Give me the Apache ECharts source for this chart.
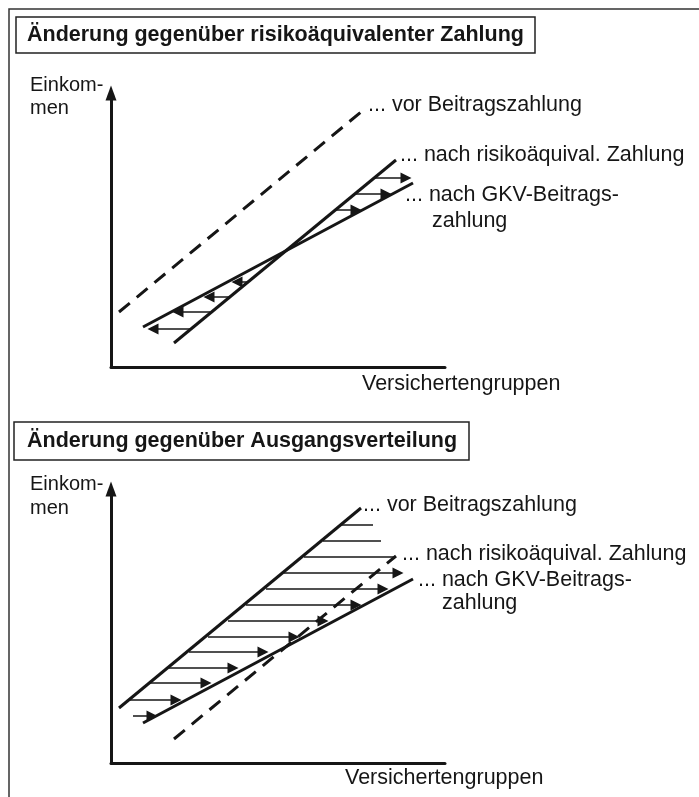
<!DOCTYPE html>
<html>
<head>
<meta charset="utf-8">
<script src="https://cdn.jsdelivr.net/npm/echarts@6/dist/echarts.min.js"></script>
<style>
  html, body { margin: 0; padding: 0; background: #fff; }
  #chart { width: 699px; height: 797px; }
</style>
</head>
<body>
<div id="chart"></div>
<script>
  // schematic: x = Versichertengruppen, y = Einkommen (1 unit ~ 1 px)
  const xMax = 334;
  const yMax = 274;

  // lines, [x, y] start and end
  const vorBeitrag = [[8, 55], [250, 255]];
  const nachRisiko = [[63, 24], [285, 207]];
  const nachGKV = [[32, 40], [302, 184]];

  // top panel arrows: [y, xFrom, xTo]
  const arrowsTop = [[189, 263, 295], [173, 243, 275], [157, 225, 245],
    [85, 137, 126], [70, 118, 98], [55, 99, 67], [38, 79, 42]];
  // bottom panel: hatch lines without head, then arrows
  const hatchBottom = [[238, 230, 262], [222, 212, 270], [206, 193, 285]];
  const arrowsBottom = [[190, 173, 287], [174, 155, 272], [158, 135, 245],
    [142, 117, 212], [126, 97, 183], [111, 78, 152], [95, 58, 122],
    [80, 38, 95], [63, 18, 65], [47, 22, 41]];

  const titles = ['Änderung gegenüber risikoäquivalenter Zahlung', 'Änderung gegenüber Ausgangsverteilung'];
  const lineLabels = ['... vor Beitragszahlung', '... nach risikoäquival. Zahlung', '... nach GKV-Beitrags-', 'zahlung'];

  const ink = '#161616';
  const font = '"Liberation Sans", Arial, Helvetica, sans-serif';
  const dash = [14, 9];

  let chart = echarts.init(document.getElementById('chart'));

  function axes(idx) {
    return {
      x: {
        gridIndex: idx, type: 'value', min: 0, max: xMax,
        axisLine: { show: true, onZero: false, lineStyle: { color: ink, width: 3 } },
        axisTick: { show: false }, axisLabel: { show: false }, splitLine: { show: false }
      },
      y: {
        gridIndex: idx, type: 'value', min: 0, max: yMax,
        axisLine: {
          show: true, onZero: false, symbol: ['none', 'triangle'], symbolSize: [11, 15],
          lineStyle: { color: ink, width: 3 }
        },
        axisTick: { show: false }, axisLabel: { show: false }, splitLine: { show: false }
      }
    };
  }

  function lineSeries(idx, data, dashed) {
    return {
      type: 'line', xAxisIndex: idx, yAxisIndex: idx, data: data,
      showSymbol: false, silent: true,
      lineStyle: { color: ink, width: 3, type: dashed ? dash : 'solid' }
    };
  }

  function arrowSeries(idx, list, head) {
    return {
      type: 'lines', coordinateSystem: 'cartesian2d', xAxisIndex: idx, yAxisIndex: idx,
      silent: true,
      symbol: head ? ['none', 'triangle'] : ['none', 'none'],
      symbolSize: [8, 11],
      lineStyle: { color: ink, width: 1.5, opacity: 1 },
      data: list.map(a => ({ coords: [[a[1], a[0]], [a[2], a[0]]] }))
    };
  }

  function text(x, y, str, size, bold) {
    return {
      type: 'text', x: x, y: y, silent: true,
      style: {
        text: str, fill: ink, font: (bold ? 'bold ' : '') + size + 'px ' + font,
        verticalAlign: 'middle', align: 'left'
      }
    };
  }

  const a0 = axes(0), a1 = axes(1);

  let option = {
    backgroundColor: '#fff',
    animation: false,
    title: [{
      text: titles[0], left: 16, top: 17, padding: [7, 11, 7, 11],
      borderColor: '#222', borderWidth: 1.5,
      textStyle: { color: ink, fontFamily: font, fontSize: 21.5, fontWeight: 'bold' }
    }, {
      text: titles[1], left: 14, top: 422, padding: [8, 12, 8, 13],
      borderColor: '#222', borderWidth: 1.5,
      textStyle: { color: ink, fontFamily: font, fontSize: 21.5, fontWeight: 'bold' }
    }],
    grid: [
      { left: 111, top: 93, width: xMax, height: yMax },
      { left: 111, top: 489, width: xMax, height: yMax }
    ],
    xAxis: [a0.x, a1.x],
    yAxis: [a0.y, a1.y],
    series: [
      lineSeries(0, vorBeitrag, true),
      lineSeries(0, nachRisiko, false),
      lineSeries(0, nachGKV, false),
      arrowSeries(0, arrowsTop, true),
      lineSeries(1, vorBeitrag, false),
      lineSeries(1, nachRisiko, true),
      lineSeries(1, nachGKV, false),
      arrowSeries(1, hatchBottom, false),
      arrowSeries(1, arrowsBottom, true)
    ],
    graphic: [
      {
        type: 'rect', silent: true, shape: { x: 9, y: 9, width: 720, height: 820 },
        style: { fill: 'none', stroke: '#333', lineWidth: 1.5 }
      },
      text(30, 85, 'Einkom-', 20),
      text(30, 108, 'men', 20),
      text(362, 384, 'Versichertengruppen', 21.5),
      text(368, 105, lineLabels[0], 21.5),
      text(400, 155, lineLabels[1], 21.5),
      text(405, 195, lineLabels[2], 21.5),
      text(432, 221, lineLabels[3], 21.5),

      text(30, 484, 'Einkom-', 20),
      text(30, 508, 'men', 20),
      text(345, 778, 'Versichertengruppen', 21.5),
      text(363, 505, lineLabels[0], 21.5),
      text(402, 554, lineLabels[1], 21.5),
      text(418, 580, lineLabels[2], 21.5),
      text(442, 603, lineLabels[3], 21.5)
    ]
  };
  chart.setOption(option);
</script>
</body>
</html>
